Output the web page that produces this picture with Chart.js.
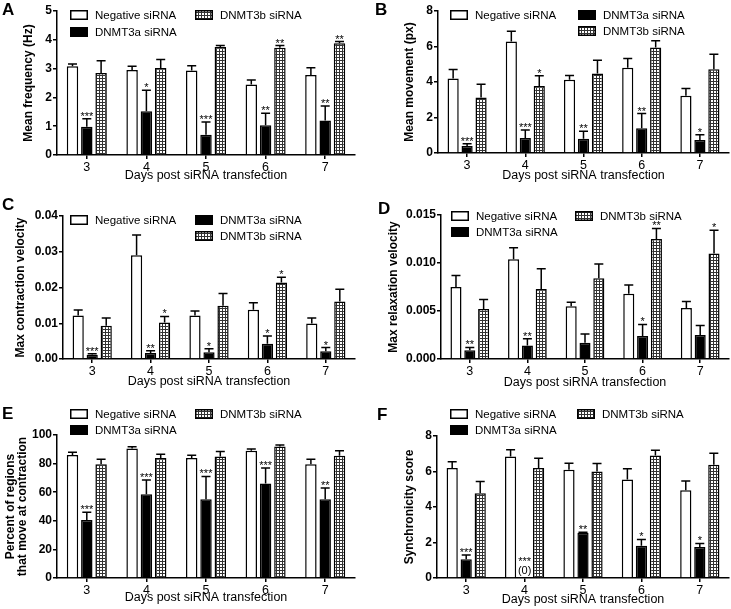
<!DOCTYPE html>
<html>
<head>
<meta charset="utf-8">
<script src="https://cdn.jsdelivr.net/npm/chart.js@4.4.0/dist/chart.umd.min.js"></script>
<style>
  body { margin: 0; background: #fff; width: 731px; height: 609px; position: relative; overflow: hidden;
         font-family: "Liberation Sans", Arial, sans-serif; }
  .panel { position: absolute; }
  .letter { position: absolute; font-weight: bold; font-size: 17px; line-height: 1; color: #000; }
</style>
</head>
<body>
<div class="panel" style="left:0;top:0;width:365px;height:200px"><canvas id="chart-a"></canvas></div>
<div class="panel" style="left:365px;top:0;width:366px;height:200px"><canvas id="chart-b"></canvas></div>
<div class="panel" style="left:0;top:200px;width:365px;height:205px"><canvas id="chart-c"></canvas></div>
<div class="panel" style="left:365px;top:200px;width:366px;height:205px"><canvas id="chart-d"></canvas></div>
<div class="panel" style="left:0;top:405px;width:365px;height:204px"><canvas id="chart-e"></canvas></div>
<div class="panel" style="left:365px;top:405px;width:366px;height:204px"><canvas id="chart-f"></canvas></div>
<div class="letter" style="left:2px;top:1px">A</div>
<div class="letter" style="left:375px;top:1px">B</div>
<div class="letter" style="left:2px;top:196px">C</div>
<div class="letter" style="left:378px;top:200px">D</div>
<div class="letter" style="left:2px;top:405px">E</div>
<div class="letter" style="left:377px;top:406px">F</div>
<script>
// ---------------- datos ----------------
const days = ["3", "4", "5", "6", "7"];
const seriesNames = ["Negative siRNA", "DNMT3a siRNA", "DNMT3b siRNA"];

// A - mean frequency
const freqNeg = [3.08, 2.95, 2.93, 2.45, 2.78];
const freqNegSem = [0.08, 0.13, 0.17, 0.15, 0.25];
const freq3a = [0.98, 1.52, 0.70, 1.03, 1.20];
const freq3aSem = [0.28, 0.73, 0.45, 0.42, 0.50];
const freq3b = [2.85, 3.02, 3.75, 3.72, 3.88];
const freq3bSem = [0.42, 0.30, 0.05, 0.08, 0.06];
const freq3aStars = ["***", "*", "***", "**", "**"];
const freq3bStars = ["", "", "", "**", "**"];

// B - mean movement
const moveNeg = [4.2, 6.28, 4.12, 4.8, 3.22];
const moveNegSem = [0.5, 0.58, 0.25, 0.52, 0.42];
const move3a = [0.4, 0.85, 0.8, 1.4, 0.73];
const move3aSem = [0.12, 0.45, 0.42, 0.82, 0.3];
const move3b = [3.12, 3.77, 4.48, 5.95, 4.72];
const move3bSem = [0.75, 0.58, 0.75, 0.38, 0.85];
const move3aStars = ["***", "***", "**", "**", "*"];
const move3bStars = ["", "*", "", "", ""];

// C - max contraction velocity
const contrNeg = [0.0122, 0.029, 0.0122, 0.0138, 0.0099];
const contrNegSem = [0.0015, 0.0057, 0.0012, 0.0019, 0.0016];
const contr3a = [0.0012, 0.0017, 0.0019, 0.0043, 0.0022];
const contr3aSem = [0.0003, 0.0006, 0.0010, 0.0021, 0.0010];
const contr3b = [0.0093, 0.0102, 0.0149, 0.0214, 0.0161];
const contr3bSem = [0.0022, 0.0017, 0.0034, 0.0015, 0.0034];
const contr3aStars = ["***", "**", "*", "*", "*"];
const contr3bStars = ["", "*", "", "*", ""];

// D - max relaxation velocity
const relaxNeg = [0.0075, 0.0104, 0.0055, 0.0068, 0.0053];
const relaxNegSem = [0.0012, 0.0012, 0.0004, 0.0009, 0.0007];
const relax3a = [0.0009, 0.0014, 0.0017, 0.0024, 0.0025];
const relax3aSem = [0.0003, 0.0007, 0.0009, 0.0012, 0.0010];
const relax3b = [0.0052, 0.0073, 0.0084, 0.0125, 0.011];
const relax3bSem = [0.0010, 0.0021, 0.0015, 0.0011, 0.0024];
const relax3aStars = ["**", "**", "", "*", ""];
const relax3bStars = ["", "", "", "**", "*"];

// E - percent of regions
const pctNeg = [86, 90.5, 84, 89, 79.5];
const pctNegSem = [2, 1.2, 1.8, 1.2, 3.5];
const pct3a = [40.5, 58.5, 55, 66, 55];
const pct3aSem = [5.5, 10, 16, 11, 8];
const pct3b = [79.5, 84, 85, 92, 85.5];
const pct3bSem = [3.5, 2.5, 3.5, 1, 3.5];
const pct3aStars = ["***", "***", "***", "***", "**"];
const pct3bStars = ["", "", "", "", ""];

// F - synchronicity score
const syncNeg = [6.2, 6.85, 6.1, 5.55, 4.95];
const syncNegSem = [0.35, 0.38, 0.37, 0.6, 0.52];
const sync3a = [1.05, 0, 2.55, 1.82, 1.75];
const sync3aSem = [0.25, 0, 0.03, 0.35, 0.2];
const sync3b = [4.78, 6.2, 6.0, 6.9, 6.38];
const sync3bSem = [0.65, 0.55, 0.45, 0.3, 0.65];
const sync3aStars = ["***", ["***", "(0)"], "**", "*", "*"];
const sync3bStars = ["", "", "", "", ""];

// ---------------- estilos ----------------
Chart.defaults.font.family = '"Liberation Sans", Arial, sans-serif';
Chart.defaults.color = "#000";

// patron cuadriculado para DNMT3b
const makeGrid = () => {
  const c = document.createElement("canvas");
  c.width = 3; c.height = 3;
  const g = c.getContext("2d");
  g.fillStyle = "#fff";
  g.fillRect(0, 0, 3, 3);
  g.fillStyle = "#333";
  g.fillRect(0, 0, 3, 1);
  g.fillRect(0, 0, 1, 3);
  return g.createPattern(c, "repeat");
};
const gridPattern = makeGrid();
const fills = ["#fff", "#000", gridPattern];

// barras de error, asteriscos y leyenda
const extrasPlugin = {
  id: "extras",
  afterDatasetsDraw(chart) {
    const { ctx } = chart;
    const y = chart.scales.y;
    ctx.save();
    chart.data.datasets.forEach((ds, di) => {
      const meta = chart.getDatasetMeta(di);
      meta.data.forEach((bar, i) => {
        const top = y.getPixelForValue(ds.data[i] + ds.sem[i]);
        if (ds.sem[i] > 0) {
          ctx.strokeStyle = "#000";
          ctx.lineWidth = 1.5;
          ctx.beginPath();
          ctx.moveTo(bar.x, bar.y);
          ctx.lineTo(bar.x, top);
          ctx.moveTo(bar.x - 4.5, top);
          ctx.lineTo(bar.x + 4.5, top);
          ctx.stroke();
        }
        let lines = ds.stars[i];
        if (!lines) return;
        if (!Array.isArray(lines)) lines = [lines];
        ctx.fillStyle = "#000";
        ctx.textAlign = "center";
        ctx.textBaseline = "alphabetic";
        ctx.font = '11px "Liberation Sans", Arial';
        let by = top + (lines.length > 1 ? -4 : 1);
        for (let k = lines.length - 1; k >= 0; k--) {
          ctx.fillText(lines[k], bar.x, by);
          by -= 9;
        }
      });
    });
    ctx.restore();
  },
  afterDraw(chart) {
    const { ctx } = chart;
    const items = chart.options.plugins.extras.legend;
    ctx.save();
    items.forEach(([di, x, yc]) => {
      const ds = chart.data.datasets[di];
      ctx.fillStyle = ds.backgroundColor;
      ctx.fillRect(x, yc - 5, 18, 10);
      ctx.strokeStyle = "#000";
      ctx.lineWidth = 1.5;
      ctx.strokeRect(x + 0.75, yc - 4.25, 16.5, 8.5);
      ctx.fillStyle = "#000";
      ctx.font = '11.5px "Liberation Sans", Arial';
      ctx.textAlign = "left";
      ctx.textBaseline = "middle";
      ctx.fillText(ds.label, x + 25, yc + 0.5);
    });
    ctx.restore();
  },
};

const makeChart = (id, p) => {
  const sets = [
    [p.neg, p.negSem, ["", "", "", "", ""]],
    [p.a, p.aSem, p.aStars],
    [p.b, p.bSem, p.bStars],
  ];
  return new Chart(document.getElementById(id), {
    type: "bar",
    plugins: [extrasPlugin],
    data: {
      labels: days,
      datasets: sets.map(([vals, sem, stars], k) => ({
        label: seriesNames[k],
        data: vals,
        sem: sem,
        stars: stars,
        backgroundColor: fills[k],
        borderColor: "#000",
        borderWidth: 1.5,
        categoryPercentage: 0.72,
        barPercentage: 0.8,
      })),
    },
    options: {
      responsive: true,
      maintainAspectRatio: false,
      animation: false,
      layout: { padding: { left: 0, top: p.padTop, right: p.padRight, bottom: 0 } },
      plugins: {
        legend: { display: false },
        tooltip: { enabled: false },
        extras: { legend: p.legend },
      },
      scales: {
        x: {
          offset: true,
          afterFit: (s) => { s.height = p.xHeight; },
          grid: { offset: false, drawOnChartArea: false, tickLength: 4, color: "#000", lineWidth: 1.5 },
          border: { color: "#000", width: 1.5 },
          ticks: { font: { size: 12.5 }, padding: 1, maxRotation: 0 },
          title: {
            display: true,
            text: "Days post siRNA transfection",
            font: { size: 12.5 },
            padding: { top: 0, bottom: p.xTitlePad },
          },
        },
        y: {
          min: 0,
          max: p.max,
          afterFit: (s) => { s.width = p.yWidth; },
          grid: { drawOnChartArea: false, tickLength: 4, color: "#000", lineWidth: 1.5 },
          border: { color: "#000", width: 1.5 },
          ticks: {
            stepSize: p.step,
            padding: 1,
            font: { size: 12, weight: "bold" },
            callback: (v) => Number(v).toFixed(p.decimals),
          },
          title: {
            display: true,
            text: p.yTitle,
            font: { size: 12, weight: "bold", lineHeight: 1.05 },
            padding: { top: p.yTitlePad, bottom: 0 },
          },
        },
      },
    },
  });
};

makeChart("chart-a", {
  neg: freqNeg, negSem: freqNegSem, a: freq3a, aSem: freq3aSem, b: freq3b, bSem: freq3bSem,
  aStars: freq3aStars, bStars: freq3bStars,
  max: 5, step: 1, decimals: 0, yTitle: "Mean frequency (Hz)",
  yWidth: 57, padTop: 11, padRight: 10, xHeight: 45, xTitlePad: 17, yTitlePad: 22,
  legend: [[0, 70, 15], [2, 195, 15], [1, 70, 32]],
});

makeChart("chart-b", {
  neg: moveNeg, negSem: moveNegSem, a: move3a, aSem: move3aSem, b: move3b, bSem: move3bSem,
  aStars: move3aStars, bStars: move3bStars,
  max: 8, step: 2, decimals: 0, yTitle: "Mean movement (px)",
  yWidth: 73, padTop: 11, padRight: 2, xHeight: 47, xTitlePad: 17, yTitlePad: 38,
  legend: [[0, 85, 15], [1, 213, 15], [2, 213, 31]],
});

makeChart("chart-c", {
  neg: contrNeg, negSem: contrNegSem, a: contr3a, aSem: contr3aSem, b: contr3b, bSem: contr3bSem,
  aStars: contr3aStars, bStars: contr3bStars,
  max: 0.04, step: 0.01, decimals: 2, yTitle: "Max contraction velocity",
  yWidth: 63, padTop: 16, padRight: 10, xHeight: 46, xTitlePad: 16, yTitlePad: 14,
  legend: [[0, 70, 20], [1, 195, 20], [2, 195, 36]],
});

makeChart("chart-d", {
  neg: relaxNeg, negSem: relaxNegSem, a: relax3a, aSem: relax3aSem, b: relax3b, bSem: relax3bSem,
  aStars: relax3aStars, bStars: relax3bStars,
  max: 0.015, step: 0.005, decimals: 3, yTitle: "Max relaxation velocity",
  yWidth: 76, padTop: 15, padRight: 2, xHeight: 46, xTitlePad: 15, yTitlePad: 22,
  legend: [[0, 86, 16], [2, 210, 16], [1, 86, 32]],
});

makeChart("chart-e", {
  neg: pctNeg, negSem: pctNegSem, a: pct3a, aSem: pct3aSem, b: pct3b, bSem: pct3bSem,
  aStars: pct3aStars, bStars: pct3bStars,
  max: 100, step: 20, decimals: 0, yTitle: ["Percent of regions", "that move at contraction"],
  yWidth: 57, padTop: 30, padRight: 10, xHeight: 31, xTitlePad: 4, yTitlePad: 4,
  legend: [[0, 70, 9], [2, 195, 9], [1, 70, 25]],
});

makeChart("chart-f", {
  neg: syncNeg, negSem: syncNegSem, a: sync3a, aSem: sync3aSem, b: sync3b, bSem: sync3bSem,
  aStars: sync3aStars, bStars: sync3bStars,
  max: 8, step: 2, decimals: 0, yTitle: "Synchronicity score",
  yWidth: 72, padTop: 31, padRight: 2, xHeight: 31, xTitlePad: 2, yTitlePad: 38,
  legend: [[0, 85, 9], [2, 212, 9], [1, 85, 25]],
});
</script>
</body>
</html>
